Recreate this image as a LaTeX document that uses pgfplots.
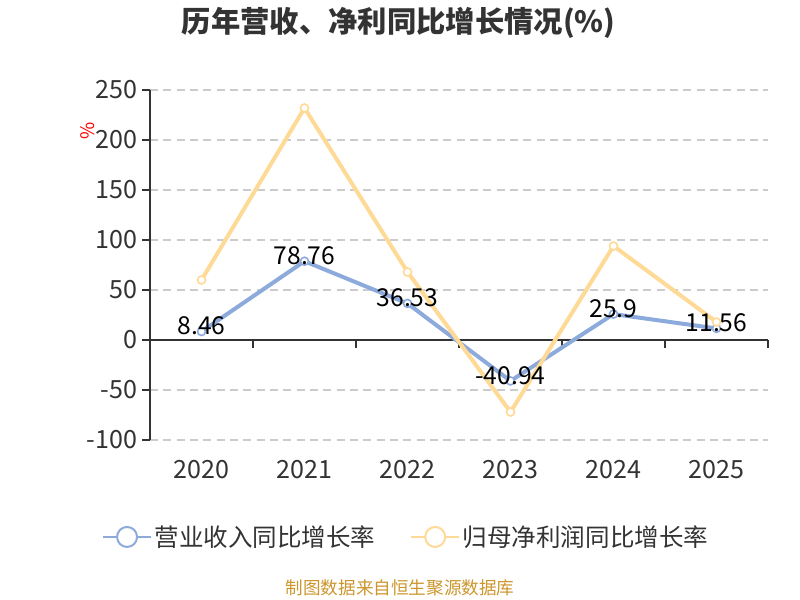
\documentclass[border=0pt]{standalone}
\usepackage{fontspec}
\setmainfont{Noto Sans CJK SC}
\usepackage{pgfplots}
\pgfplotsset{compat=1.18}
\definecolor{revblue}{RGB}{141,170,220}
\definecolor{profor}{RGB}{255,217,150}
\definecolor{txtgray}{RGB}{51,51,51}
\definecolor{gridgray}{RGB}{204,204,204}
\definecolor{srcgold}{RGB}{204,150,45}
\begin{document}
\begin{tikzpicture}
\useasboundingbox (0,0) rectangle (600pt,450pt);
% title, unit label, source
\node[font=\bfseries\fontsize{22}{26}\selectfont,text=txtgray] at (299pt,433pt) {历年营收、净利同比增长情况(\%)};
\node[font=\fontsize{14}{16}\selectfont,text=red,rotate=90] at (66pt,352pt) {\%};
\node[font=\fontsize{13.2}{15}\selectfont,text=srcgold] at (300pt,9pt) {制图数据来自恒生聚源数据库};
\begin{axis}[
  at={(112.5pt,120pt)},anchor=south west,
  width=463.5pt,height=262.5pt,scale only axis,
  xmin=-0.5,xmax=5.5,ymin=-100,ymax=250,
  ytick={-100,-50,0,50,100,150,200,250},
  xtick={0,1,2,3,4,5},
  xticklabels={2020,2021,2022,2023,2024,2025},
  axis x line*=bottom,axis y line*=left,
  x axis line style={draw=none},
  y axis line style={draw=black!80,line width=0.9pt,-},
  x tick style={draw=none},
  y tick style={draw=black!80,line width=0.9pt},
  tick align=outside,major tick length=6pt,
  ymajorgrids,major grid style={gridgray,dashed,dash pattern=on 6pt off 4pt,line width=0.8pt},
  tick label style={font=\fontsize{18.8}{20}\selectfont,text=txtgray},
  /pgf/number format/assume math mode=true,
  xticklabel style={yshift=-6pt},
  clip=false,
  legend style={at={(0.415,-0.277)},anchor=center,draw=none,fill=none,
    legend columns=2,font=\fontsize{18.4}{20}\selectfont,text=txtgray,
    /tikz/every even column/.append style={column sep=24pt}},
  legend image code/.code={
    \draw[#1,mark=none,line width=1.5pt] (0pt,0pt) -- (36pt,0pt);
    \draw[#1,mark=none,fill=white,line width=1.5pt] (18pt,0pt) circle (7.5pt);},
]
% x axis line at zero with ticks between categories
\draw[black!80,line width=0.9pt] (axis cs:-0.5,0) -- (axis cs:5.5,0);
\pgfplotsinvokeforeach{0.5,1.5,2.5,3.5,4.5,5.5}{
  \draw[black!80,line width=0.9pt] (axis cs:#1,0) -- ++(0pt,-6pt);}
\addplot[revblue,line width=3pt,mark=*,mark size=3pt,
  mark options={fill=white,draw=revblue,line width=1.2pt},
  point meta=explicit symbolic,nodes near coords,
  every node near coord/.append style={anchor=center,yshift=4pt,text=black,
    font=\fontsize{18.5}{20}\selectfont}]
  coordinates {(0,8.46)[8.46] (1,78.76)[78.76] (2,36.53)[36.53] (3,-40.94)[-40.94] (4,25.9)[25.9] (5,11.56)[11.56]};
\addplot[profor,line width=3pt,mark=*,mark size=3pt,
  mark options={fill=white,draw=profor,line width=1.2pt}]
  coordinates {(0,60) (1,232) (2,68) (3,-72) (4,94) (5,18)};
\legend{营业收入同比增长率,归母净利润同比增长率}
\end{axis}
\end{tikzpicture}
\end{document}
